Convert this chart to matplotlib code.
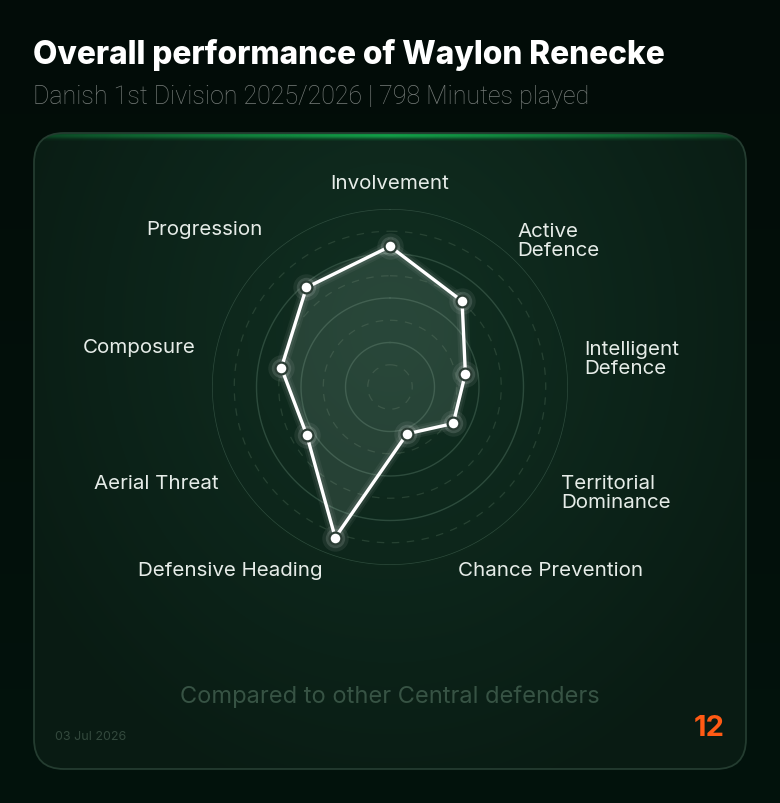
import numpy as np
import matplotlib
matplotlib.use("Agg")
import matplotlib.pyplot as plt
from matplotlib.patches import FancyBboxPatch

# ---------------- data ----------------
categories = ["Involvement", "Active\nDefence", "Intelligent\nDefence",
              "Territorial\nDominance", "Chance Prevention", "Defensive Heading",
              "Aerial Threat", "Composure", "Progression"]
values = [79, 63, 43, 41, 28, 90, 54, 62, 73]
title = "Overall performance of Waylon Renecke"
subtitle = "Danish 1st Division 2025/2026 | 798 Minutes played"
footer = "Compared to other Central defenders"
date_text = "03 Jul 2026"
logo_text = "12"

# label nudges in pixels (style only)
label_dy = [-2, -5, -6, -7, 3, 3, 3, 6, 7]

W, H = 780, 804
fig = plt.figure(figsize=(W / 100, H / 100), dpi=100)
fig.patch.set_facecolor("#020d08")

# ---------------- background ----------------
bg = fig.add_axes([0, 0, 1, 1])
bg.set_xlim(0, W)
bg.set_ylim(H, 0)
bg.axis("off")

yy, xx = np.mgrid[0:H, 0:W]
t = np.clip(yy / H, 0, 1)
top_c = np.array([0x02, 0x0c, 0x08]) / 255
bot_c = np.array([0x03, 0x13, 0x0d]) / 255
base = top_c[None, None, :] * (1 - t[..., None]) + bot_c[None, None, :] * t[..., None]
bg.imshow(base, extent=(0, W, H, 0), zorder=0, aspect="auto")

# card
cx0, cy0, cx1, cy1 = 34, 134, 746, 770
card = FancyBboxPatch((cx0, cy0), cx1 - cx0, cy1 - cy0,
                      boxstyle="round,pad=0,rounding_size=30",
                      facecolor="none", edgecolor="#243c30", lw=1.3, zorder=3)
bg.add_patch(card)
d = np.sqrt(((xx - 390) / 430) ** 2 + ((yy - 330) / 500) ** 2)
d = np.clip(d, 0, 1)
cin = np.array([0x11, 0x30, 0x22]) / 255
cout = np.array([0x09, 0x1b, 0x13]) / 255
cimg = cin[None, None, :] * (1 - d[..., None]) + cout[None, None, :] * d[..., None]
im = bg.imshow(cimg, extent=(0, W, H, 0), zorder=1, aspect="auto")
clip_card = FancyBboxPatch((cx0, cy0), cx1 - cx0, cy1 - cy0,
                           boxstyle="round,pad=0,rounding_size=30",
                           facecolor="none", edgecolor="none", transform=bg.transData)
bg.add_patch(clip_card)
im.set_clip_path(clip_card)

# top green glow
gx = np.linspace(0, 1, 400)
prof = np.clip(1 - np.abs(gx - 0.5) * 1.9, 0, 1) ** 0.8
glow = np.zeros((8, 400, 4))
green = np.array([0x12, 0xa0, 0x48]) / 255
glow[..., :3] = green
vprof = np.array([0.3, 0.7, 1.0, 1.0, 0.8, 0.5, 0.25, 0.1])
glow[..., 3] = vprof[:, None] * (0.25 + 0.75 * prof[None, :])
gim = bg.imshow(glow, extent=(cx0 + 10, cx1 - 10, 142, 133), zorder=2, aspect="auto",
                interpolation="bilinear")
gim.set_clip_path(clip_card)

# texts
bg.text(33, 55, title, fontsize=22.8, fontweight=800, family="Inter",
        color="white", va="center", ha="left", zorder=5)
bg.text(33, 97, subtitle, fontsize=18, family="Roboto", fontweight="light",
        color="#777d7a", va="center", ha="left", zorder=5)
bg.text(390, 697, footer, fontsize=17, family="Inter", color="#375344",
        va="center", ha="center", zorder=5)
bg.text(55, 737, date_text, fontsize=9, family="Inter", color="#33493d",
        va="center", ha="left", zorder=5)
bg.text(725, 729, logo_text, fontsize=21, family="Inter", fontweight="bold",
        color="#ff5a14", va="center", ha="right", zorder=5)

# ---------------- radar ----------------
R = 178
cxp, cyp = 390, 388
ax = fig.add_axes([(cxp - R) / W, (H - cyp - R) / H, 2 * R / W, 2 * R / H],
                  projection="polar")
ax.set_facecolor("none")
ax.set_theta_offset(np.pi / 2)
ax.set_theta_direction(-1)
ax.set_ylim(0, 100)
ax.grid(False)
ax.set_xticks([])
ax.set_yticks([])
ax.spines["polar"].set_visible(False)

th = np.linspace(0, 2 * np.pi, 361)
for r in [25, 50, 75, 100]:
    ax.plot(th, np.full_like(th, r), color="#3a5a4a", lw=1.0, alpha=0.7, zorder=1)
for r in [12.5, 37.5, 62.5, 87.5]:
    ax.plot(th, np.full_like(th, r), color="#34503f", lw=0.9, alpha=0.65,
            ls=(0, (6, 6)), zorder=1)

n = len(categories)
angles = np.arange(n) * 2 * np.pi / n
ang_c = np.append(angles, angles[0])
val_c = np.append(values, values[0])

ax.fill(ang_c, val_c, color="#cfe8dc", alpha=0.13, zorder=2, lw=0)
for lw, a in [(9, 0.05), (6, 0.07)]:
    ax.plot(ang_c, val_c, color="white", lw=lw, alpha=a, zorder=3,
            solid_joinstyle="round")
ax.plot(ang_c, val_c, color="white", lw=2.4, zorder=4, solid_joinstyle="round")
for ms, a in [(19, 0.07), (14, 0.13)]:
    ax.plot(angles, values, "o", ms=ms, color="white", alpha=a, mec="none", zorder=5)
ax.plot(angles, values, "o", ms=8.5, mfc="white", mec="#2b3d34", mew=1.6, zorder=6)

for a, lab, dy in zip(angles, categories, label_dy):
    s = np.sin(a)
    if abs(s) < 0.05:
        ha, rr = "center", 116
    elif s > 0:
        ha, rr = "left", 111
    else:
        ha, rr = "right", 111
    ax.annotate(lab, xy=(a, rr), xytext=(0, dy), textcoords="offset pixels",
                ha=ha, va="center", fontsize=14.8, family="Inter",
                color="#e6ece8", linespacing=1.05, zorder=7, annotation_clip=False)

fig.savefig("out.png", dpi=100, facecolor=fig.get_facecolor())
